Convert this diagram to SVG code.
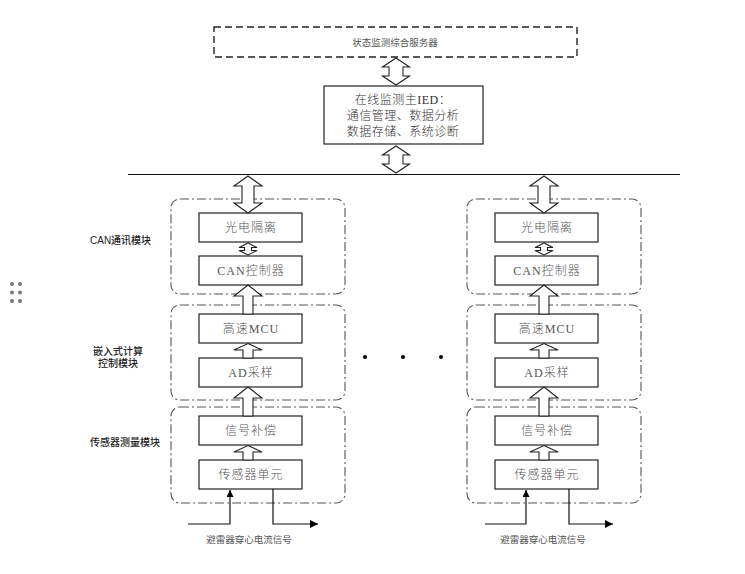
<svg xmlns="http://www.w3.org/2000/svg" width="745" height="574" viewBox="0 0 745 574">
<style>
.box{fill:#fff;stroke:#222;stroke-width:1.2}
.grp{fill:none;stroke:#555;stroke-width:1.1;stroke-dasharray:9,3,2,3}
.arr{fill:#fff;stroke:#222;stroke-width:1.1;stroke-linejoin:miter}
.line{fill:none;stroke:#111;stroke-width:1.2}
.bt{font-family:"Liberation Serif","Noto Sans CJK SC",serif;font-size:12px;fill:#555;font-weight:300;text-anchor:middle;letter-spacing:1px}
.it{font-family:"Liberation Serif","Noto Sans CJK SC",serif;font-size:12px;fill:#333;font-weight:300;text-anchor:middle;letter-spacing:0.5px}
.st{font-family:"Liberation Sans","Noto Sans CJK SC",sans-serif;font-size:9.5px;fill:#555;text-anchor:middle}
.lb{font-family:"Liberation Sans","Noto Sans CJK SC",sans-serif;font-size:10px;fill:#222;font-weight:500}
</style>
<defs>
<marker id="ah" viewBox="0 0 10 10" refX="10" refY="5" markerWidth="7" markerHeight="7" markerUnits="userSpaceOnUse" orient="auto"><path d="M0,0 L10,5 L0,10 Z" fill="#000"/></marker>
<marker id="ahw" viewBox="0 0 10 10" refX="10" refY="5" markerWidth="11" markerHeight="8" markerUnits="userSpaceOnUse" orient="auto"><path d="M0,0 L10,5 L0,10 Z" fill="#000"/></marker>
</defs>

<g id="handle" fill="#777">
<circle cx="12" cy="284" r="2"/><circle cx="20" cy="284" r="2"/>
<circle cx="12" cy="292.5" r="2"/><circle cx="20" cy="292.5" r="2"/>
<circle cx="12" cy="301" r="2"/><circle cx="20" cy="301" r="2"/>
</g>

<g id="server">
<rect x="214" y="27" width="363" height="30" fill="#fff" stroke="#222" stroke-width="1.4" stroke-dasharray="7,4"/>
<text class="st" x="395" y="45.5">状态监测综合服务器</text>
</g>

<g id="ied">
<rect class="box" x="324" y="86" width="159" height="58"/>
<text class="it" x="403" y="104">在线监测主IED：</text>
<text class="it" x="403" y="120">通信管理、数据分析</text>
<text class="it" x="403" y="136">数据存储、系统诊断</text>
</g>

<g id="bus">
<line class="line" x1="128" y1="174.5" x2="680" y2="174.5" stroke-width="1.5"/>
</g>

<g id="labels">
<text class="lb" x="90" y="244">CAN通讯模块</text>
<text class="lb" x="93" y="355">嵌入式计算</text>
<text class="lb" x="98" y="367">控制模块</text>
<text class="lb" x="90" y="446">传感器测量模块</text>
</g>

<g id="dots" fill="#000">
<circle cx="365" cy="357" r="2"/><circle cx="403" cy="357" r="2"/><circle cx="441" cy="357" r="2"/>
</g>

<g id="col1">
<rect class="grp" x="171" y="199" width="174" height="95" rx="9"/>
<rect class="grp" x="171" y="305" width="174" height="95" rx="9"/>
<rect class="grp" x="171" y="407" width="174" height="96" rx="9"/>
<g id="c1-opto"><rect class="box" x="199" y="213" width="103" height="29"/><text class="bt" x="251" y="232">光电隔离</text></g>
<g id="c1-can"><rect class="box" x="199" y="256" width="103" height="29"/><text class="bt" x="251" y="275">CAN控制器</text></g>
<g id="c1-mcu"><rect class="box" x="199" y="314" width="103" height="29"/><text class="bt" x="251" y="333">高速MCU</text></g>
<g id="c1-ad"><rect class="box" x="199" y="358" width="103" height="29"/><text class="bt" x="251" y="377">AD采样</text></g>
<g id="c1-comp"><rect class="box" x="199" y="416" width="103" height="29"/><text class="bt" x="251" y="435">信号补偿</text></g>
<g id="c1-sensor"><rect class="box" x="199" y="460" width="103" height="29"/><text class="bt" x="251" y="479">传感器单元</text></g>
<text class="st" x="249" y="543">避雷器穿心电流信号</text>
</g>

<g id="col2">
<rect class="grp" x="467" y="199" width="174" height="95" rx="9"/>
<rect class="grp" x="467" y="305" width="174" height="95" rx="9"/>
<rect class="grp" x="467" y="407" width="174" height="96" rx="9"/>
<g id="c2-opto"><rect class="box" x="495" y="213" width="103" height="29"/><text class="bt" x="547" y="232">光电隔离</text></g>
<g id="c2-can"><rect class="box" x="495" y="256" width="103" height="29"/><text class="bt" x="547" y="275">CAN控制器</text></g>
<g id="c2-mcu"><rect class="box" x="495" y="314" width="103" height="29"/><text class="bt" x="547" y="333">高速MCU</text></g>
<g id="c2-ad"><rect class="box" x="495" y="358" width="103" height="29"/><text class="bt" x="547" y="377">AD采样</text></g>
<g id="c2-comp"><rect class="box" x="495" y="416" width="103" height="29"/><text class="bt" x="547" y="435">信号补偿</text></g>
<g id="c2-sensor"><rect class="box" x="495" y="460" width="103" height="29"/><text class="bt" x="547" y="479">传感器单元</text></g>
<text class="st" x="543" y="543">避雷器穿心电流信号</text>
</g>

<g id="connectors">
<path class="arr" d="M396,58 L409.5,67 L403,67 L403,76 L409.5,76 L396,85 L382.5,76 L389,76 L389,67 L382.5,67 Z"/>
<path class="arr" d="M396,146 L409.5,155 L403,155 L403,164 L409.5,164 L396,173 L382.5,164 L389,164 L389,155 L382.5,155 Z"/>
<g id="arrows-c1">
<path class="arr" d="M248,176 L262,186 L254,186 L254,203 L262,203 L248,213 L234,203 L242,203 L242,186 L234,186 Z"/>
<path class="arr" d="M248,243 L257,247.5 L251.5,247.5 L251.5,250.5 L257,250.5 L248,255 L239,250.5 L244.5,250.5 L244.5,247.5 L239,247.5 Z"/>
<path class="arr" d="M248,285 L262,296 L253,296 L253,314 L243,314 L243,296 L234,296 Z"/>
<path class="arr" d="M248,343.5 L262,350 L253,350 L253,358 L243,358 L243,350 L234,350 Z"/>
<path class="arr" d="M248,387 L262,398 L253,398 L253,416 L243,416 L243,398 L234,398 Z"/>
<path class="arr" d="M248,445.5 L262,452 L253,452 L253,460 L243,460 L243,452 L234,452 Z"/>
<path class="line" d="M188,524 L230,524 L230,490" marker-end="url(#ah)"/>
<path class="line" d="M273,489 L273,524 L318,524" marker-end="url(#ahw)"/>
</g>
<g id="arrows-c2">
<path class="arr" d="M544,176 L558,186 L550,186 L550,203 L558,203 L544,213 L530,203 L538,203 L538,186 L530,186 Z"/>
<path class="arr" d="M544,243 L553,247.5 L547.5,247.5 L547.5,250.5 L553,250.5 L544,255 L535,250.5 L540.5,250.5 L540.5,247.5 L535,247.5 Z"/>
<path class="arr" d="M544,285 L558,296 L549,296 L549,314 L539,314 L539,296 L530,296 Z"/>
<path class="arr" d="M544,343.5 L558,350 L549,350 L549,358 L539,358 L539,350 L530,350 Z"/>
<path class="arr" d="M544,387 L558,398 L549,398 L549,416 L539,416 L539,398 L530,398 Z"/>
<path class="arr" d="M544,445.5 L558,452 L549,452 L549,460 L539,460 L539,452 L530,452 Z"/>
<path class="line" d="M485,524 L526,524 L526,490" marker-end="url(#ah)"/>
<path class="line" d="M569,489 L569,524 L613,524" marker-end="url(#ahw)"/>
</g>
</g>
</svg>
